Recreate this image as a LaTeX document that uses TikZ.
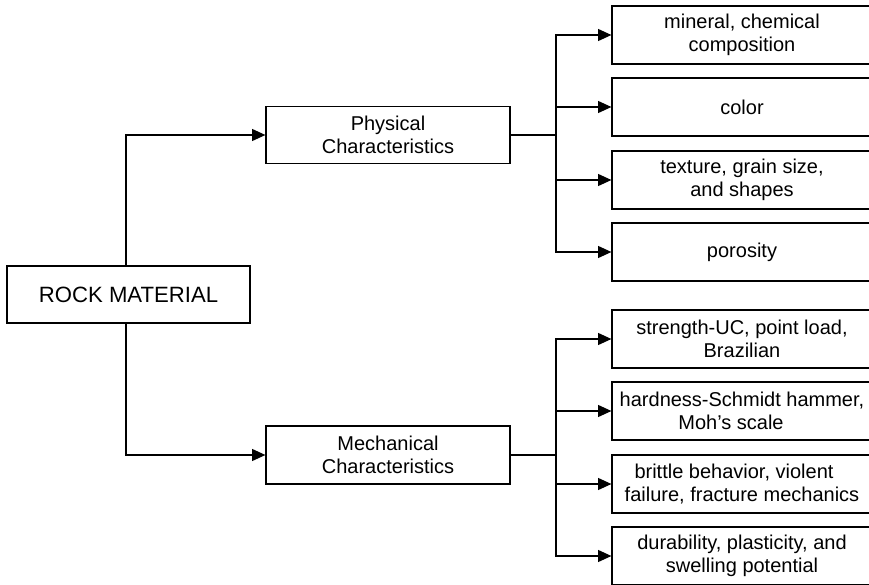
\documentclass[tikz,border=0pt]{standalone}
\usepackage{fontspec}
\setmainfont{Liberation Sans}
\usetikzlibrary{arrows.meta}
\begin{document}
\begin{tikzpicture}[x=0.75pt,y=-0.75pt,
 box/.style={draw, line width=0.9pt, inner sep=0pt, align=center, font=\fontsize{15}{17.25}\selectfont},
 rbox/.style={box, minimum width=260*0.75pt, minimum height=58*0.75pt},
 mbox/.style={box, minimum width=244*0.75pt, minimum height=57*0.75pt},
 conn/.style={line width=0.9pt},
 arr/.style={conn, -{Triangle[length=10pt,width=9pt]}}]
\useasboundingbox (0,0) rectangle (869,585);

\node[box, minimum width=243*0.75pt, minimum height=57*0.75pt, font=\fontsize{16.6}{19}\selectfont] (rock) at (128.5,294.5) {ROCK MATERIAL};
\node[mbox] (phys) at (388,135) {Physical\\Characteristics};
\node[mbox, minimum height=58*0.75pt] (mech) at (388,455) {Mechanical\\Characteristics};

\node[rbox] (b1) at (742,35) {mineral, chemical\\composition};
\node[rbox] (b2) at (742,107) {color};
\node[rbox] (b3) at (742,180) {texture, grain size,\\and shapes};
\node[rbox] (b4) at (742,252) {porosity};
\node[rbox] (b5) at (742,339) {strength-UC, point load,\\Brazilian};
\node[rbox] (b6) at (742,411) {hardness-Schmidt hammer,\\Moh's scale\hspace*{16.5pt}};
\node[rbox] (b7) at (742,484) {brittle behavior, violent\hspace*{12pt}\\failure, fracture mechanics};
\node[rbox] (b8) at (742,556) {durability, plasticity, and\\swelling potential};

\coordinate (j1) at (556,135);
\coordinate (j2) at (556,455);

\draw[arr] ([xshift=-1.9pt]rock.north) |- (phys.west);
\draw[arr] ([xshift=-1.9pt]rock.south) |- (mech.west);

\draw[conn] (phys.east) -- (j1);
\draw[conn] (mech.east) -- (j2);
\foreach \b in {b1,b2,b3,b4} \draw[arr] (j1) |- (\b.west);
\foreach \b in {b5,b6,b7,b8} \draw[arr] (j2) |- (\b.west);
\end{tikzpicture}
\end{document}
